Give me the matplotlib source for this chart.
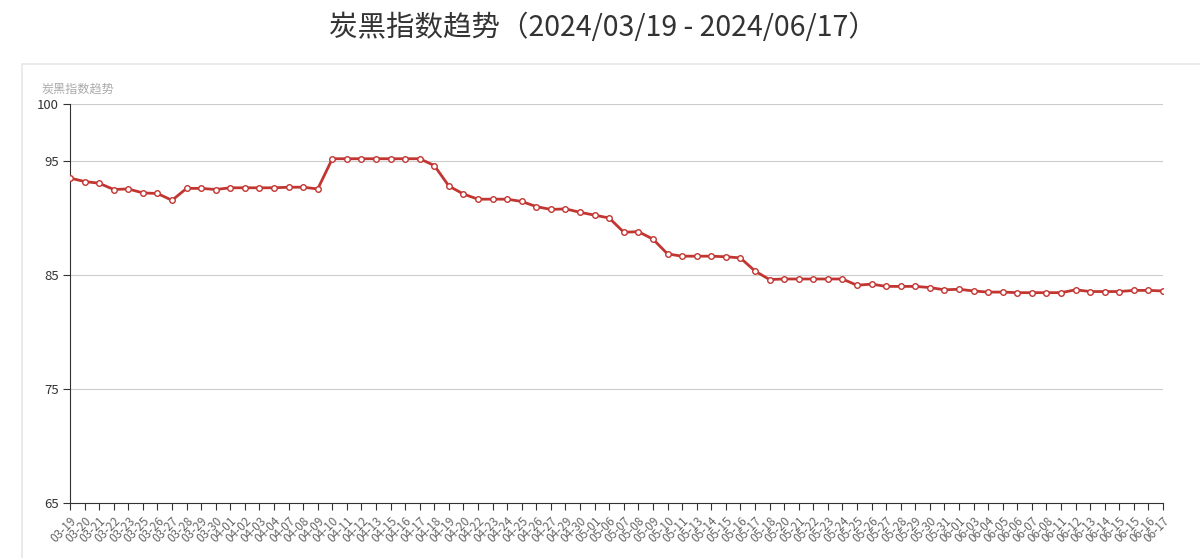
import matplotlib
matplotlib.use("Agg")
import matplotlib.pyplot as plt
from matplotlib.patches import Rectangle

plt.rcParams['font.family'] = ['Noto Sans CJK SC', 'DejaVu Sans']

# dates on the category axis (06-15 appears twice in the source)
dates = [
    "03-19", "03-20", "03-21", "03-22", "03-23", "03-25", "03-26", "03-27",
    "03-28", "03-29", "03-30", "04-01", "04-02", "04-03", "04-04", "04-07",
    "04-08", "04-09", "04-10", "04-11", "04-12", "04-13", "04-15", "04-16",
    "04-17", "04-18", "04-19", "04-20", "04-22", "04-23", "04-24", "04-25",
    "04-26", "04-27", "04-29", "04-30", "05-01", "05-06", "05-07", "05-08",
    "05-09", "05-10", "05-11", "05-13", "05-14", "05-15", "05-16", "05-17",
    "05-18", "05-20", "05-21", "05-22", "05-23", "05-24", "05-25", "05-26",
    "05-27", "05-28", "05-29", "05-30", "05-31", "06-01", "06-03", "06-04",
    "06-05", "06-06", "06-07", "06-08", "06-11", "06-12", "06-13", "06-14",
    "06-15", "06-15", "06-16", "06-17",
]

index_values = [
    93.5, 93.2, 93.05, 92.5, 92.55, 92.2, 92.15, 91.55,
    92.6, 92.6, 92.5, 92.65, 92.65, 92.65, 92.65, 92.7,
    92.7, 92.55, 95.2, 95.2, 95.2, 95.2, 95.2, 95.2,
    95.2, 94.6, 92.8, 92.1, 91.65, 91.65, 91.65, 91.45,
    91.0, 90.75, 90.8, 90.5, 90.25, 90.0, 88.75, 88.8,
    88.15, 86.85, 86.65, 86.65, 86.65, 86.6, 86.5, 85.35,
    84.6, 84.65, 84.65, 84.65, 84.65, 84.65, 84.1, 84.2,
    84.0, 84.0, 84.0, 83.9, 83.7, 83.75, 83.6, 83.5,
    83.5, 83.45, 83.45, 83.45, 83.45, 83.7, 83.55, 83.55,
    83.55, 83.65, 83.65, 83.6,
]

y_ticks = [65, 75, 85, 95, 100]

fig = plt.figure(figsize=(12, 5.58), dpi=100)

# light panel frame behind the chart
fig.patches.append(Rectangle((22 / 1200, -0.01), 1.0, (558 - 64) / 558 + 0.01,
                             transform=fig.transFigure, fill=False,
                             edgecolor='#e6e6e6', linewidth=1.2))

fig.text(603 / 1200, 1 - 28 / 558, "炭黑指数趋势（2024/03/19 - 2024/06/17）",
         ha='center', va='center', fontsize=20.5, color='#333333')

ax = fig.add_axes([70 / 1200, (558 - 503) / 558, (1163 - 70) / 1200, (503 - 104) / 558])

x = list(range(len(dates)))
ax.plot(x, index_values, color='#c23531', linewidth=2, marker='o', markersize=4,
        markerfacecolor='white', markeredgecolor='#c23531', markeredgewidth=1, zorder=3)

ax.set_xlim(0, len(dates) - 1)
ax.set_ylim(65, 100)
ax.set_yticks(y_ticks)
ax.set_yticklabels([str(t) for t in y_ticks], fontsize=9.5, color='#333333')
ax.set_xticks(x)
ax.set_xticklabels(dates, rotation=45, ha='right', rotation_mode='anchor',
                   fontsize=8.5, color='#666666')

ax.grid(axis='y', color='#cccccc', linewidth=0.8)
ax.set_axisbelow(True)
for s in ['top', 'right']:
    ax.spines[s].set_visible(False)
ax.spines['left'].set_color('#333333')
ax.spines['bottom'].set_color('#333333')
ax.tick_params(axis='both', length=5, color='#333333', pad=3)

fig.text(42 / 1200, 1 - 89 / 558, "炭黑指数趋势", ha='left', va='center',
         fontsize=8.7, color='#aaaaaa')

fig.savefig("out.png", dpi=100)
